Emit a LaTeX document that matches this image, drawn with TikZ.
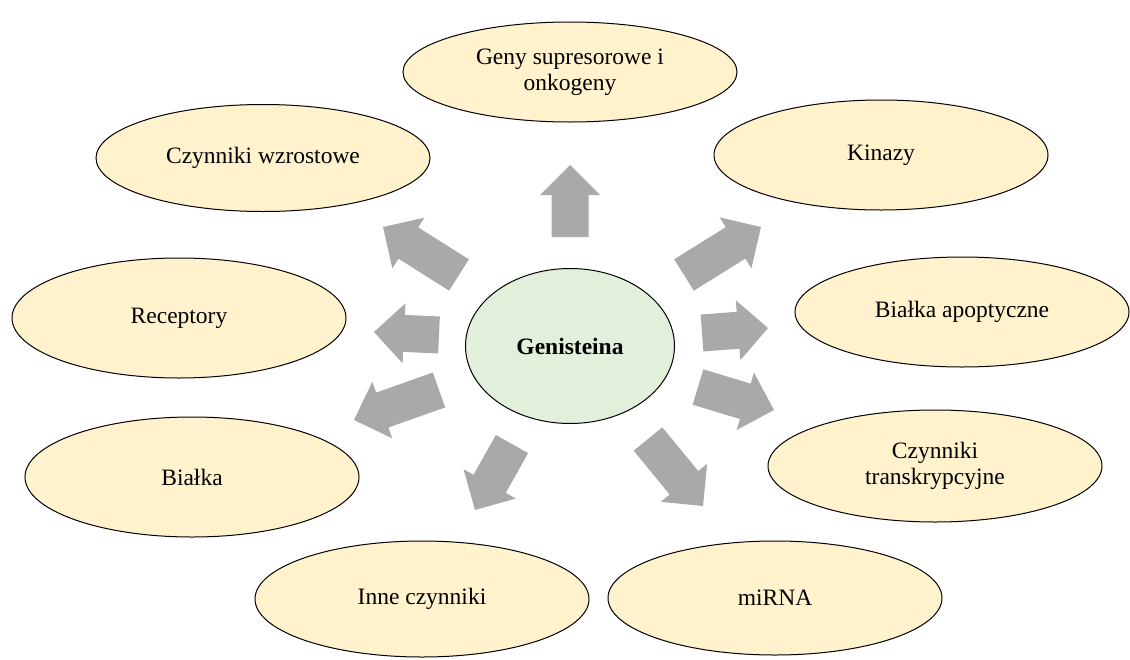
\documentclass[tikz,border=0pt]{standalone}
\usepackage{fontspec}
\setmainfont{Liberation Serif}
\usetikzlibrary{shapes.geometric,calc}
\definecolor{ellfill}{HTML}{FFF2CC}
\definecolor{genfill}{HTML}{E2EFDA}
\definecolor{arrgray}{HTML}{A9A9A9}
\tikzset{
  item/.style={ellipse, draw=black, line width=1pt, fill=ellfill, minimum width=334pt,
    align=center, inner sep=0pt, font=\fontsize{23.5}{26}\selectfont},
  center/.style={ellipse, draw=black, line width=1pt, fill=genfill, minimum width=209pt,
    minimum height=155pt, align=center, inner sep=0pt, font=\fontsize{23.5}{26}\selectfont\bfseries},
  arr/.style={fill=arrgray},
}
\newcommand\blockarrow[2]{%
  \coordinate (#2h) at ($(#2)!30pt!(#1)$);
  \fill[arr] ($(#1)!18.5pt!90:(#2)$) -- ($(#2h)!18.5pt!90:(#2)$) -- ($(#2h)!30pt!90:(#2)$)
    -- (#2) -- ($(#2h)!30pt!-90:(#2)$) -- ($(#2h)!18.5pt!-90:(#2)$) -- ($(#1)!18.5pt!-90:(#2)$) -- cycle;
}
\begin{document}
\begin{tikzpicture}[x=1pt,y=-1pt]
\useasboundingbox (0,0) rectangle (1130,659);
% nodes
\node[item, minimum height=100pt] (geny) at (570,72) {Geny supresorowe i\\onkogeny};
\node[item, minimum height=107pt] (wzrost) at (263,158) {Czynniki wzrostowe};
\node[item, minimum height=110pt] (kinazy) at (881,155) {Kinazy};
\node[item, minimum height=120pt] (recept) at (179,318) {Receptory};
\node[item, minimum height=110pt] (apopt) at (962,312) {Białka apoptyczne};
\node[item, minimum height=120pt] (bialka) at (192,477) {Białka};
\node[item, minimum height=112pt] (transkr) at (935,466) {Czynniki\\transkrypcyjne};
\node[item, minimum height=116pt] (inne) at (422,599) {Inne czynniki};
\node[item, minimum height=114pt] (mirna) at (775,598) {miRNA};
\node[center] (gen) at (570,346) {Genisteina};
% arrow end points
\coordinate (a1) at (570,237); \coordinate (b1) at (570,165);
\coordinate (a2) at (459,275); \coordinate (b2) at (383,227);
\coordinate (a3) at (684,275); \coordinate (b3) at (761,227);
\coordinate (a4) at (439,335); \coordinate (b4) at (374,332);
\coordinate (a5) at (702,333); \coordinate (b5) at (768,328);
\coordinate (a6) at (439,390); \coordinate (b6) at (354,420);
\coordinate (a7) at (698,387); \coordinate (b7) at (774,410);
\coordinate (a8) at (512,444); \coordinate (b8) at (475,510);
\coordinate (a9) at (648,439); \coordinate (b9) at (703,506);
\blockarrow{a1}{b1}
\blockarrow{a2}{b2}
\blockarrow{a3}{b3}
\blockarrow{a4}{b4}
\blockarrow{a5}{b5}
\blockarrow{a6}{b6}
\blockarrow{a7}{b7}
\blockarrow{a8}{b8}
\blockarrow{a9}{b9}
\end{tikzpicture}
\end{document}
